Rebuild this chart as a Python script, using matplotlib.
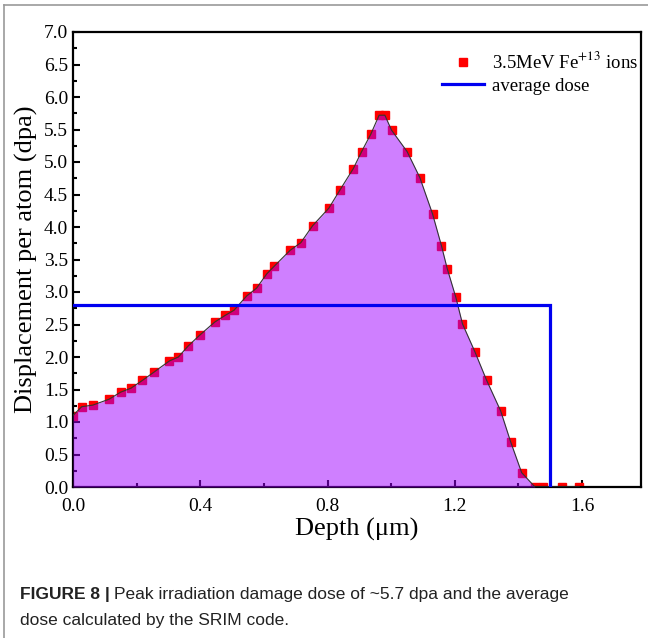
import matplotlib
matplotlib.use("Agg")
import matplotlib.pyplot as plt
from matplotlib.ticker import MultipleLocator, FormatStrFormatter
from matplotlib.lines import Line2D

depth = [0.0, 0.027, 0.062, 0.113, 0.150, 0.182, 0.218, 0.255, 0.303, 0.331,
         0.362, 0.399, 0.446, 0.478, 0.506, 0.546, 0.577, 0.609, 0.633, 0.682,
         0.716, 0.753, 0.804, 0.839, 0.881, 0.907, 0.936, 0.962, 0.980, 1.001,
         1.050, 1.090, 1.130, 1.158, 1.176, 1.203, 1.224, 1.263, 1.300, 1.344,
         1.375, 1.410, 1.452, 1.478, 1.537, 1.591]
dpa = [1.10, 1.235, 1.26, 1.35, 1.46, 1.52, 1.64, 1.77, 1.94, 2.00,
       2.17, 2.34, 2.54, 2.64, 2.72, 2.94, 3.06, 3.28, 3.40, 3.64,
       3.76, 4.02, 4.29, 4.57, 4.90, 5.16, 5.43, 5.72, 5.72, 5.49,
       5.16, 4.76, 4.20, 3.71, 3.36, 2.92, 2.51, 2.08, 1.64, 1.17,
       0.70, 0.22, 0.0, 0.0, 0.0, 0.0]
avg_dose = 2.8
avg_depth_end = 1.5

plt.rcParams['font.family'] = ['Liberation Serif', 'DejaVu Serif']
plt.rcParams['mathtext.fontset'] = 'stix'

fig = plt.figure(figsize=(6.48, 6.38), dpi=100)
ax = fig.add_axes([73/648, 1-487/638, (641-73)/648, (487-32)/638])

# markers (under the translucent fill)
ax.plot(depth, dpa, linestyle='none', marker='s', markersize=6.2,
        color='#FF0000', zorder=2)
# curve line
ax.plot(depth, dpa, color='#333333', linewidth=0.8, zorder=4)
# translucent fill
ax.fill_between(depth, 0, dpa, color='#A000FF', alpha=0.5, linewidth=0, zorder=3)
# average dose
ax.plot([0, avg_depth_end, avg_depth_end], [avg_dose, avg_dose, 0],
        color='#0000F0', linewidth=2.3, zorder=5, solid_joinstyle='miter')

ax.set_xlim(0, 1.785)
ax.set_ylim(0, 7.0)
ax.xaxis.set_major_locator(MultipleLocator(0.4))
ax.xaxis.set_minor_locator(MultipleLocator(0.2))
ax.yaxis.set_major_locator(MultipleLocator(0.5))
ax.yaxis.set_minor_locator(MultipleLocator(0.25))
ax.xaxis.set_major_formatter(FormatStrFormatter('%.1f'))
ax.yaxis.set_major_formatter(FormatStrFormatter('%.1f'))
ax.tick_params(which='both', direction='in', labelsize=14, width=1.5, top=False, right=False)
ax.tick_params(which='major', length=5)
ax.tick_params(which='minor', length=3)
ax.tick_params(axis='x', pad=8)
for s in ax.spines.values():
    s.set_linewidth(1.6)

ax.set_xlabel('Depth (μm)', fontsize=19, labelpad=2)
ax.set_ylabel('Displacement per atom (dpa)', fontsize=19, labelpad=4)

handles = [Line2D([], [], linestyle='none', marker='s', markersize=6.2, color='#FF0000'),
           Line2D([], [], color='#0000F0', linewidth=2.3)]
labels = ['3.5MeV Fe$^{+13}$ ions', 'average dose']
ax.legend(handles, labels, loc='upper left', bbox_to_anchor=(0.649, 0.958),
          frameon=False, fontsize=13.5, borderpad=0, borderaxespad=0,
          handlelength=2.25, handletextpad=0.45, labelspacing=0.3)

# figure frame lines
fig.add_artist(Line2D([4/648, 4/648], [0, 1-5/638], color='#999999', linewidth=1.2,
                      transform=fig.transFigure))
fig.add_artist(Line2D([4/648, 1], [1-5/638, 1-5/638], color='#999999', linewidth=1.2,
                      transform=fig.transFigure))

# caption
cap_kw = dict(fontsize=12.5, color='#222222', family=['Liberation Sans', 'DejaVu Sans'],
              va='center', ha='left')
t1 = fig.text(20/648, 1-595/638, 'FIGURE 8 |', fontweight='bold', **cap_kw)
fig.canvas.draw()
bb = t1.get_window_extent()
fig.text((bb.x1 + 4)/648, 1-595/638,
         'Peak irradiation damage dose of ~5.7 dpa and the average', **cap_kw)
fig.text(20/648, 1-620/638, 'dose calculated by the SRIM code.', **cap_kw)

fig.savefig('out.png', dpi=100)
